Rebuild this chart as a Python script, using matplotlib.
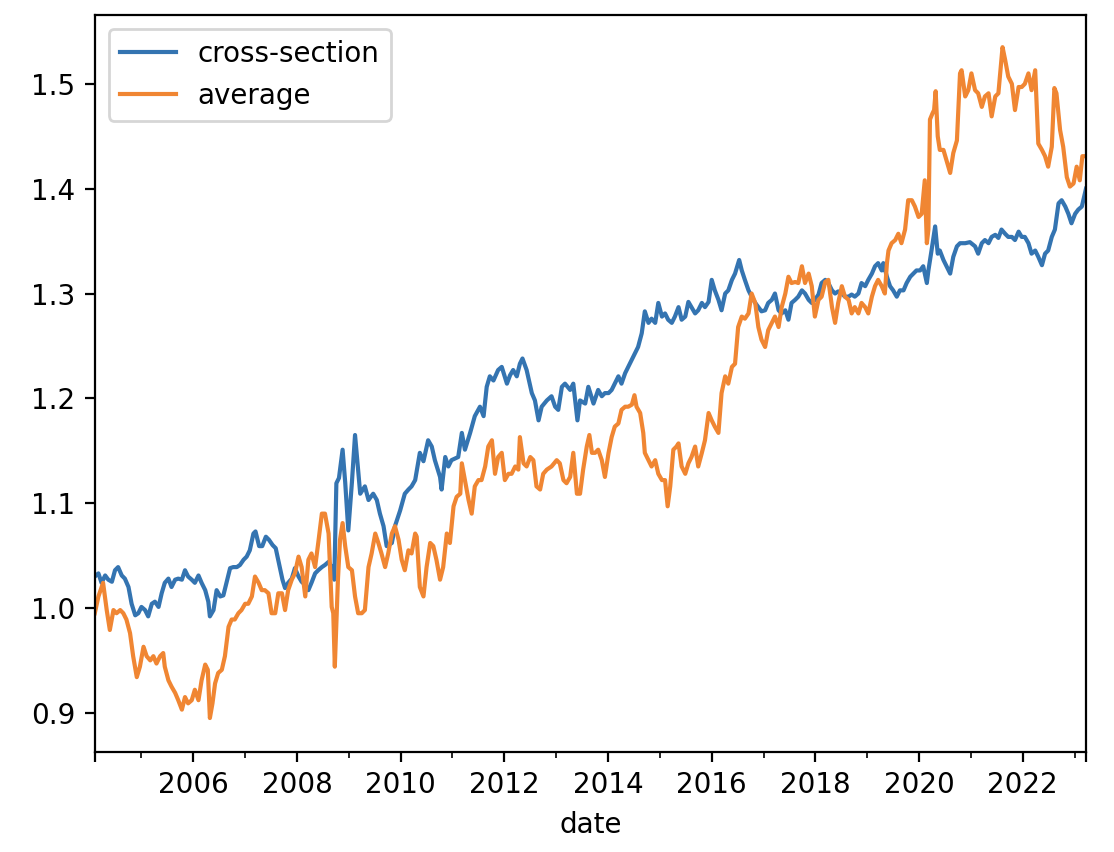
import matplotlib
matplotlib.use("Agg")
import matplotlib.pyplot as plt
from matplotlib.ticker import FixedLocator, FixedFormatter

# ---- data (decimal year, value) ----
cs_years = [
    2004.10, 2004.17, 2004.23, 2004.30, 2004.36, 2004.43, 2004.49, 2004.55, 2004.62, 2004.68,
    2004.75, 2004.81, 2004.88, 2004.94, 2005.00, 2005.07, 2005.13, 2005.20, 2005.26, 2005.33,
    2005.39, 2005.45, 2005.52, 2005.58, 2005.65, 2005.71, 2005.78, 2005.84, 2005.90, 2005.97,
    2006.03, 2006.10, 2006.16, 2006.23, 2006.29, 2006.32, 2006.39, 2006.45, 2006.52, 2006.58,
    2006.64, 2006.71, 2006.77, 2006.84, 2006.90, 2006.97, 2007.03, 2007.09, 2007.16, 2007.20,
    2007.27, 2007.33, 2007.40, 2007.46, 2007.53, 2007.59, 2007.65, 2007.72, 2007.77, 2007.83,
    2007.90, 2007.96, 2008.03, 2008.09, 2008.16, 2008.22, 2008.28, 2008.35, 2008.41, 2008.48,
    2008.54, 2008.61, 2008.67, 2008.72, 2008.76, 2008.81, 2008.88, 2008.93, 2008.99, 2009.06,
    2009.12, 2009.22, 2009.31, 2009.38, 2009.47, 2009.54, 2009.60, 2009.67, 2009.73, 2009.83,
    2009.89, 2009.99, 2010.08, 2010.15, 2010.21, 2010.28, 2010.37, 2010.44, 2010.53, 2010.60,
    2010.66, 2010.76, 2010.79, 2010.86, 2010.92, 2010.98, 2011.11, 2011.18, 2011.24, 2011.34,
    2011.43, 2011.53, 2011.60, 2011.66, 2011.72, 2011.79, 2011.88, 2011.95, 2012.05, 2012.11,
    2012.17, 2012.24, 2012.30, 2012.35, 2012.43, 2012.53, 2012.59, 2012.66, 2012.72, 2012.82,
    2012.91, 2012.98, 2013.04, 2013.11, 2013.17, 2013.27, 2013.33, 2013.41, 2013.46, 2013.56,
    2013.62, 2013.72, 2013.81, 2013.88, 2013.94, 2014.01, 2014.07, 2014.13, 2014.20, 2014.26,
    2014.33, 2014.39, 2014.46, 2014.52, 2014.58, 2014.65, 2014.71, 2014.78, 2014.84, 2014.91,
    2014.97, 2015.04, 2015.10, 2015.16, 2015.23, 2015.29, 2015.36, 2015.42, 2015.49, 2015.55,
    2015.61, 2015.68, 2015.74, 2015.81, 2015.87, 2015.94, 2016.00, 2016.06, 2016.13, 2016.19,
    2016.26, 2016.32, 2016.39, 2016.45, 2016.53, 2016.58, 2016.64, 2016.71, 2016.77, 2016.84,
    2016.90, 2016.96, 2017.03, 2017.09, 2017.16, 2017.22, 2017.29, 2017.35, 2017.42, 2017.48,
    2017.54, 2017.61, 2017.67, 2017.74, 2017.80, 2017.87, 2017.93, 2017.99, 2018.06, 2018.12,
    2018.19, 2018.25, 2018.32, 2018.38, 2018.44, 2018.51, 2018.57, 2018.64, 2018.70, 2018.76,
    2018.83, 2018.89, 2018.96, 2019.02, 2019.09, 2019.15, 2019.21, 2019.28, 2019.31, 2019.38,
    2019.44, 2019.50, 2019.57, 2019.63, 2019.70, 2019.76, 2019.83, 2019.89, 2019.95, 2020.02,
    2020.08, 2020.15, 2020.18, 2020.24, 2020.31, 2020.36, 2020.40, 2020.47, 2020.53, 2020.60,
    2020.66, 2020.73, 2020.79, 2020.89, 2020.98, 2021.08, 2021.14, 2021.21, 2021.27, 2021.34,
    2021.40, 2021.47, 2021.53, 2021.59, 2021.66, 2021.72, 2021.79, 2021.85, 2021.92, 2021.98,
    2022.04, 2022.11, 2022.17, 2022.24, 2022.30, 2022.37, 2022.43, 2022.49, 2022.56, 2022.62,
    2022.69, 2022.75, 2022.82, 2022.88, 2022.94, 2023.01, 2023.07, 2023.14, 2023.22,
]
cs_values = [
    1.030, 1.033, 1.024, 1.031, 1.027, 1.025, 1.036, 1.039, 1.031, 1.028,
    1.020, 1.004, 0.993, 0.995, 1.001, 0.998, 0.992, 1.004, 1.006, 1.001,
    1.014, 1.024, 1.028, 1.020, 1.027, 1.028, 1.027, 1.036, 1.030, 1.027,
    1.024, 1.031, 1.024, 1.017, 1.006, 0.992, 0.998, 1.017, 1.011, 1.012,
    1.024, 1.038, 1.039, 1.039, 1.041, 1.046, 1.049, 1.055, 1.071, 1.073,
    1.059, 1.059, 1.068, 1.065, 1.060, 1.057, 1.043, 1.027, 1.019, 1.024,
    1.028, 1.038, 1.030, 1.025, 1.022, 1.017, 1.024, 1.033, 1.036, 1.039,
    1.041, 1.044, 1.039, 1.027, 1.119, 1.124, 1.151, 1.120, 1.074, 1.120,
    1.165, 1.109, 1.116, 1.103, 1.109, 1.103, 1.090, 1.078, 1.059, 1.062,
    1.078, 1.093, 1.109, 1.113, 1.116, 1.122, 1.148, 1.140, 1.160, 1.154,
    1.141, 1.125, 1.113, 1.144, 1.135, 1.141, 1.144, 1.167, 1.151, 1.167,
    1.183, 1.192, 1.183, 1.211, 1.221, 1.217, 1.227, 1.230, 1.214, 1.222,
    1.227, 1.221, 1.233, 1.238, 1.227, 1.205, 1.198, 1.179, 1.192, 1.198,
    1.202, 1.192, 1.189, 1.211, 1.214, 1.208, 1.214, 1.179, 1.198, 1.195,
    1.211, 1.195, 1.208, 1.202, 1.205, 1.205, 1.208, 1.214, 1.221, 1.214,
    1.224, 1.230, 1.237, 1.243, 1.249, 1.262, 1.283, 1.272, 1.276, 1.272,
    1.291, 1.278, 1.281, 1.275, 1.272, 1.278, 1.287, 1.275, 1.278, 1.292,
    1.287, 1.281, 1.284, 1.291, 1.287, 1.292, 1.313, 1.303, 1.294, 1.284,
    1.300, 1.303, 1.313, 1.319, 1.332, 1.322, 1.313, 1.303, 1.297, 1.291,
    1.287, 1.283, 1.284, 1.291, 1.294, 1.300, 1.284, 1.281, 1.284, 1.275,
    1.291, 1.294, 1.297, 1.303, 1.300, 1.294, 1.291, 1.294, 1.299, 1.310,
    1.313, 1.310, 1.303, 1.300, 1.302, 1.300, 1.297, 1.297, 1.299, 1.297,
    1.300, 1.310, 1.307, 1.313, 1.319, 1.326, 1.329, 1.322, 1.329, 1.316,
    1.307, 1.303, 1.297, 1.303, 1.303, 1.310, 1.316, 1.319, 1.322, 1.322,
    1.326, 1.310, 1.322, 1.341, 1.364, 1.338, 1.341, 1.332, 1.326, 1.319,
    1.335, 1.345, 1.348, 1.348, 1.349, 1.345, 1.338, 1.348, 1.351, 1.348,
    1.354, 1.356, 1.353, 1.361, 1.357, 1.354, 1.354, 1.351, 1.359, 1.354,
    1.354, 1.348, 1.338, 1.341, 1.335, 1.327, 1.338, 1.341, 1.354, 1.361,
    1.386, 1.389, 1.383, 1.376, 1.367, 1.376, 1.380, 1.383, 1.400,
]

avg_years = [
    2004.10, 2004.17, 2004.26, 2004.33, 2004.39, 2004.46, 2004.52, 2004.59, 2004.65, 2004.71,
    2004.78, 2004.84, 2004.91, 2004.97, 2005.04, 2005.10, 2005.17, 2005.23, 2005.29, 2005.36,
    2005.42, 2005.45, 2005.52, 2005.58, 2005.65, 2005.71, 2005.78, 2005.84, 2005.90, 2005.97,
    2006.03, 2006.10, 2006.16, 2006.23, 2006.28, 2006.32, 2006.37, 2006.42, 2006.48, 2006.55,
    2006.61, 2006.68, 2006.74, 2006.80, 2006.87, 2006.93, 2007.00, 2007.06, 2007.13, 2007.19,
    2007.26, 2007.32, 2007.38, 2007.45, 2007.51, 2007.58, 2007.64, 2007.71, 2007.77, 2007.83,
    2007.90, 2007.96, 2008.03, 2008.09, 2008.16, 2008.22, 2008.28, 2008.35, 2008.41, 2008.48,
    2008.54, 2008.61, 2008.67, 2008.70, 2008.73, 2008.79, 2008.83, 2008.88, 2008.93, 2008.99,
    2009.06, 2009.12, 2009.18, 2009.25, 2009.31, 2009.38, 2009.44, 2009.51, 2009.57, 2009.63,
    2009.70, 2009.76, 2009.83, 2009.89, 2009.96, 2010.02, 2010.08, 2010.15, 2010.21, 2010.28,
    2010.31, 2010.37, 2010.44, 2010.50, 2010.57, 2010.63, 2010.69, 2010.76, 2010.82, 2010.89,
    2010.95, 2011.02, 2011.08, 2011.15, 2011.18, 2011.24, 2011.31, 2011.37, 2011.43, 2011.50,
    2011.56, 2011.63, 2011.69, 2011.76, 2011.82, 2011.88, 2011.95, 2012.01, 2012.08, 2012.14,
    2012.21, 2012.27, 2012.30, 2012.37, 2012.43, 2012.50, 2012.56, 2012.62, 2012.69, 2012.75,
    2012.82, 2012.91, 2013.01, 2013.07, 2013.14, 2013.20, 2013.27, 2013.33, 2013.40, 2013.46,
    2013.52, 2013.59, 2013.64, 2013.69, 2013.75, 2013.81, 2013.88, 2013.94, 2014.01, 2014.07,
    2014.13, 2014.20, 2014.26, 2014.33, 2014.39, 2014.46, 2014.51, 2014.55, 2014.62, 2014.68,
    2014.71, 2014.78, 2014.84, 2014.91, 2014.97, 2015.04, 2015.10, 2015.15, 2015.20, 2015.26,
    2015.32, 2015.36, 2015.42, 2015.49, 2015.55, 2015.61, 2015.68, 2015.74, 2015.81, 2015.87,
    2015.94, 2016.00, 2016.06, 2016.13, 2016.19, 2016.26, 2016.32, 2016.39, 2016.45, 2016.51,
    2016.58, 2016.64, 2016.71, 2016.77, 2016.84, 2016.90, 2016.96, 2017.03, 2017.09, 2017.16,
    2017.22, 2017.29, 2017.35, 2017.42, 2017.48, 2017.54, 2017.61, 2017.67, 2017.74, 2017.80,
    2017.87, 2017.93, 2017.99, 2018.06, 2018.12, 2018.19, 2018.25, 2018.32, 2018.38, 2018.44,
    2018.51, 2018.57, 2018.64, 2018.70, 2018.76, 2018.83, 2018.89, 2018.96, 2019.02, 2019.09,
    2019.15, 2019.21, 2019.28, 2019.34, 2019.38, 2019.41, 2019.47, 2019.54, 2019.60, 2019.66,
    2019.73, 2019.79, 2019.86, 2019.92, 2019.99, 2020.05, 2020.11, 2020.15, 2020.18, 2020.21,
    2020.26, 2020.29, 2020.32, 2020.36, 2020.40, 2020.47, 2020.53, 2020.60, 2020.66, 2020.73,
    2020.79, 2020.82, 2020.89, 2020.95, 2021.01, 2021.08, 2021.14, 2021.21, 2021.27, 2021.34,
    2021.40, 2021.47, 2021.53, 2021.61, 2021.66, 2021.72, 2021.79, 2021.85, 2021.92, 2021.98,
    2022.04, 2022.11, 2022.17, 2022.24, 2022.30, 2022.37, 2022.43, 2022.49, 2022.56, 2022.61,
    2022.65, 2022.72, 2022.78, 2022.85, 2022.91, 2022.98, 2023.04, 2023.10, 2023.15, 2023.22,
]
avg_values = [
    0.995, 1.011, 1.024, 0.998, 0.979, 0.998, 0.995, 0.998, 0.995, 0.989,
    0.976, 0.954, 0.934, 0.944, 0.963, 0.954, 0.950, 0.954, 0.947, 0.954,
    0.957, 0.944, 0.931, 0.925, 0.919, 0.912, 0.903, 0.915, 0.909, 0.912,
    0.922, 0.912, 0.931, 0.946, 0.941, 0.895, 0.909, 0.928, 0.938, 0.941,
    0.954, 0.982, 0.989, 0.989, 0.995, 0.998, 1.004, 1.004, 1.011, 1.030,
    1.024, 1.017, 1.017, 1.014, 0.995, 0.995, 1.014, 1.014, 0.998, 1.017,
    1.027, 1.033, 1.049, 1.039, 1.011, 1.046, 1.052, 1.039, 1.062, 1.090,
    1.090, 1.071, 1.001, 0.995, 0.944, 1.027, 1.065, 1.081, 1.059, 1.039,
    1.036, 1.011, 0.995, 0.995, 0.998, 1.039, 1.052, 1.071, 1.062, 1.052,
    1.039, 1.052, 1.071, 1.078, 1.065, 1.046, 1.036, 1.055, 1.052, 1.071,
    1.068, 1.020, 1.011, 1.039, 1.062, 1.059, 1.046, 1.027, 1.039, 1.071,
    1.062, 1.097, 1.106, 1.109, 1.138, 1.122, 1.103, 1.090, 1.116, 1.122,
    1.122, 1.135, 1.154, 1.160, 1.128, 1.144, 1.148, 1.122, 1.128, 1.128,
    1.135, 1.132, 1.163, 1.138, 1.135, 1.144, 1.141, 1.116, 1.113, 1.128,
    1.132, 1.135, 1.141, 1.138, 1.122, 1.119, 1.125, 1.148, 1.109, 1.109,
    1.132, 1.154, 1.165, 1.148, 1.148, 1.151, 1.141, 1.125, 1.148, 1.163,
    1.173, 1.176, 1.189, 1.192, 1.192, 1.194, 1.203, 1.192, 1.186, 1.167,
    1.148, 1.141, 1.135, 1.141, 1.128, 1.122, 1.122, 1.097, 1.116, 1.151,
    1.154, 1.157, 1.135, 1.128, 1.138, 1.144, 1.154, 1.135, 1.148, 1.160,
    1.186, 1.179, 1.173, 1.167, 1.205, 1.221, 1.214, 1.230, 1.233, 1.268,
    1.278, 1.276, 1.281, 1.300, 1.291, 1.268, 1.256, 1.249, 1.265, 1.272,
    1.278, 1.268, 1.287, 1.300, 1.316, 1.310, 1.311, 1.310, 1.326, 1.310,
    1.319, 1.307, 1.278, 1.294, 1.297, 1.311, 1.313, 1.287, 1.272, 1.291,
    1.307, 1.297, 1.294, 1.281, 1.287, 1.281, 1.291, 1.287, 1.281, 1.297,
    1.307, 1.313, 1.307, 1.300, 1.329, 1.341, 1.348, 1.351, 1.357, 1.348,
    1.361, 1.389, 1.389, 1.383, 1.373, 1.376, 1.408, 1.348, 1.361, 1.466,
    1.472, 1.475, 1.493, 1.450, 1.437, 1.437, 1.427, 1.415, 1.434, 1.446,
    1.510, 1.513, 1.488, 1.494, 1.510, 1.494, 1.491, 1.478, 1.488, 1.491,
    1.469, 1.488, 1.491, 1.535, 1.523, 1.507, 1.500, 1.475, 1.497, 1.497,
    1.500, 1.510, 1.494, 1.513, 1.443, 1.437, 1.431, 1.421, 1.440, 1.496,
    1.491, 1.456, 1.440, 1.411, 1.402, 1.405, 1.421, 1.408, 1.431, 1.431,
]

series_labels = ["cross-section", "average"]
major_years = [2006, 2008, 2010, 2012, 2014, 2016, 2018, 2020, 2022]
minor_years = [2005, 2007, 2009, 2011, 2013, 2015, 2017, 2019, 2021, 2023]

x_start, x_end = 2004.104, 2023.22

fig = plt.figure(figsize=(1114 / 200, 852 / 200), dpi=200)
ax = fig.add_axes([95 / 1114, 100 / 852, 991 / 1114, 737 / 852])

ax.plot(cs_years, cs_values, color="#3474b1", label=series_labels[0])
ax.plot(avg_years, avg_values, color="#f08633", label=series_labels[1])

ax.set_xlim(x_start, x_end)
ax.set_ylim(0.8626, 1.5657)

ticks = [x_start] + major_years + [x_end]
labels = [""] + [str(y) for y in major_years] + [""]
ax.xaxis.set_major_locator(FixedLocator(ticks))
ax.xaxis.set_major_formatter(FixedFormatter(labels))
ax.xaxis.set_minor_locator(FixedLocator(minor_years))
ax.set_yticks([0.9, 1.0, 1.1, 1.2, 1.3, 1.4, 1.5])
ax.set_xlabel("date")
ax.legend(loc="upper left")

fig.savefig("out.png", dpi=200)
